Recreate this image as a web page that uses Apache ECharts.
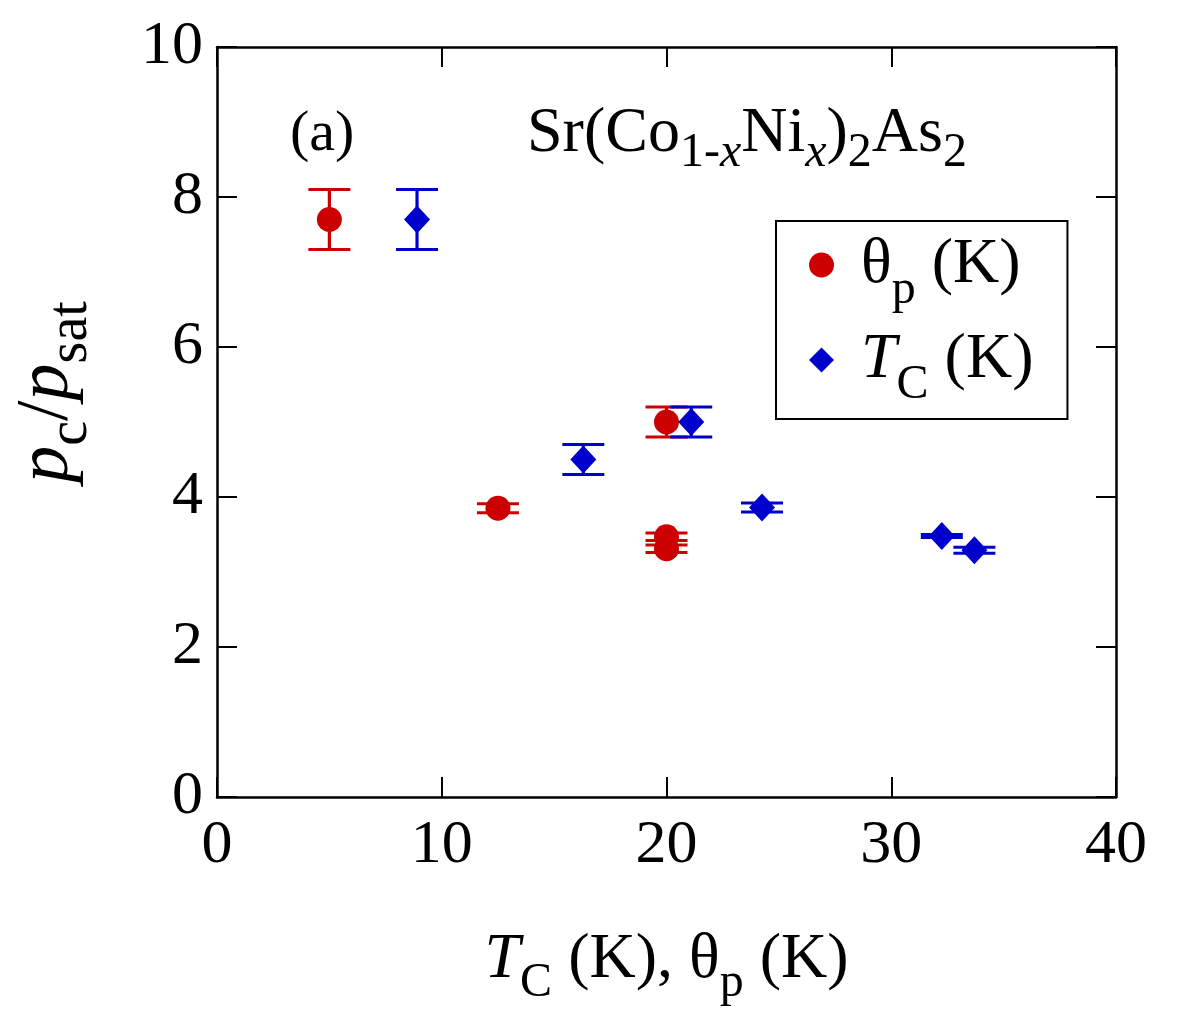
<!DOCTYPE html>
<html>
<head>
<meta charset="utf-8">
<script src="https://cdn.jsdelivr.net/npm/echarts@6/dist/echarts.min.js"></script>
<style>
  html, body { margin: 0; padding: 0; background: #fff; }
  #chart { width: 1178px; height: 1017px; }
</style>
</head>
<body>
<div id="chart"></div>
<script>
// θp series
var thetaX = [5, 12.5, 20, 20, 20];
var thetaY = [7.7, 3.85, 5.0, 3.47, 3.31];
var thetaErr = [0.4, 0.06, 0.2, 0.05, 0.05];
// TC series
var tcX = [8.9, 16.3, 21.1, 24.25, 32.25, 33.7];
var tcY = [7.7, 4.5, 5.0, 3.86, 3.48, 3.29];
var tcErr = [0.4, 0.2, 0.2, 0.06, 0.02, 0.04];
var xTicks = [0, 10, 20, 30, 40];
var yTicks = [0, 2, 4, 6, 8, 10];

var FONT = "Liberation Serif";
var RED = "#CC0000";
var BLUE = "#0000CC";

var myChart = echarts.init(document.getElementById("chart"));

function richSet(main, sub, shift) {
  return {
    m: { fontFamily: FONT, fontSize: main, color: "#000" },
    i: { fontFamily: FONT, fontSize: main, color: "#000", fontStyle: "italic" },
    s: { fontFamily: FONT, fontSize: sub, color: "#000", padding: [shift, 0, 0, 0] },
    si: { fontFamily: FONT, fontSize: sub, color: "#000", fontStyle: "italic", padding: [shift, 0, 0, 0] }
  };
}

function pairs(xs, ys, es) {
  var out = [];
  for (var i = 0; i < xs.length; i++) {
    out.push(es ? [xs[i], ys[i], es[i]] : [xs[i], ys[i]]);
  }
  return out;
}

// 误差棒
function errorBar(color) {
  return function (params, api) {
    var x = api.value(0), y = api.value(1), e = api.value(2);
    var top = api.coord([x, y + e]);
    var bot = api.coord([x, y - e]);
    var hw = 21;
    var st = { stroke: color, lineWidth: 3.2 };
    return {
      type: "group",
      children: [
        { type: "line", shape: { x1: top[0], y1: top[1], x2: bot[0], y2: bot[1] }, style: st },
        { type: "line", shape: { x1: top[0] - hw, y1: top[1], x2: top[0] + hw, y2: top[1] }, style: st },
        { type: "line", shape: { x1: bot[0] - hw, y1: bot[1], x2: bot[0] + hw, y2: bot[1] }, style: st }
      ]
    };
  };
}

var axisLine = { show: true, onZero: false, lineStyle: { color: "#000", width: 2.5 } };
var axisTick = { show: true, inside: true, length: 20, lineStyle: { color: "#000", width: 2 } };

var option = {
  backgroundColor: "#fff",
  animation: false,
  grid: { left: 217, top: 47, width: 899, height: 750, containLabel: false, outerBoundsMode: "none" },
  legend: {
    orient: "vertical",
    left: 776,
    top: 221,
    data: ["θp", "TC"],
    itemWidth: 25,
    itemHeight: 25,
    itemGap: 14,
    padding: [12, 34, 10, 33],
    borderColor: "#000",
    borderWidth: 2,
    formatter: function (name) {
      return name === "θp" ? "{g|}{m|θ}{s|p}{m| (K)}" : "{g|}{i|T}{s|C}{m| (K)}";
    },
    textStyle: {
      rich: Object.assign(richSet(64, 48, 50), { g: { width: 22 } })
    }
  },
  xAxis: [
    {
      type: "value", min: 0, max: 40, interval: 10,
      axisLine: axisLine, axisTick: axisTick, splitLine: { show: false },
      axisLabel: { margin: 18, fontFamily: FONT, fontSize: 62, color: "#000",
        formatter: function (v) { return xTicks.indexOf(v) >= 0 ? String(v) : ""; } },
      name: "{i|T}{s|C}{m| (K), θ}{s|p}{m| (K)}",
      nameLocation: "middle",
      nameGap: 116,
      nameTextStyle: { rich: richSet(64, 48, 46) }
    },
    {
      type: "value", position: "top", min: 0, max: 40, interval: 10,
      axisLine: axisLine, axisTick: axisTick, axisLabel: { show: false }, splitLine: { show: false }
    }
  ],
  yAxis: [
    {
      type: "value", min: 0, max: 10, interval: 2,
      axisLine: axisLine, axisTick: axisTick, splitLine: { show: false },
      axisLabel: { margin: 14, fontFamily: FONT, fontSize: 62, color: "#000",
        formatter: function (v) { return yTicks.indexOf(v) >= 0 ? String(v) : ""; } },
      name: "{i|p}{s|c}{m|/}{i|p}{s|sat}",
      nameLocation: "middle",
      nameRotate: 90,
      nameGap: 118,
      nameTextStyle: { rich: richSet(74, 56, 46), padding: [0, 0, 0, 60] }
    },
    {
      type: "value", position: "right", min: 0, max: 10, interval: 2,
      axisLine: axisLine, axisTick: axisTick, axisLabel: { show: false }, splitLine: { show: false }
    }
  ],
  graphic: [
    {
      type: "text", left: 290, top: 106,
      style: { text: "(a)", fontFamily: FONT, fontSize: 58, fill: "#000" }
    },
    {
      type: "text", left: 527, top: 102,
      style: {
        text: "{m|Sr(Co}{s|1-}{si|x}{m|Ni}{si|x}{m|)}{s|2}{m|As}{s|2}",
        rich: richSet(64, 48, 38)
      }
    }
  ],
  series: [
    {
      type: "custom", renderItem: errorBar(RED), data: pairs(thetaX, thetaY, thetaErr),
      encode: { x: 0, y: [1, 2] }, z: 2
    },
    {
      type: "custom", renderItem: errorBar(BLUE), data: pairs(tcX, tcY, tcErr),
      encode: { x: 0, y: [1, 2] }, z: 2
    },
    {
      name: "θp", type: "scatter", symbol: "circle", symbolSize: 25,
      itemStyle: { color: RED, opacity: 1 }, data: pairs(thetaX, thetaY), z: 3
    },
    {
      name: "TC", type: "scatter", symbol: "diamond", symbolSize: [26, 28],
      itemStyle: { color: BLUE, opacity: 1 }, data: pairs(tcX, tcY), z: 3
    }
  ]
};

myChart.setOption(option);
</script>
</body>
</html>
